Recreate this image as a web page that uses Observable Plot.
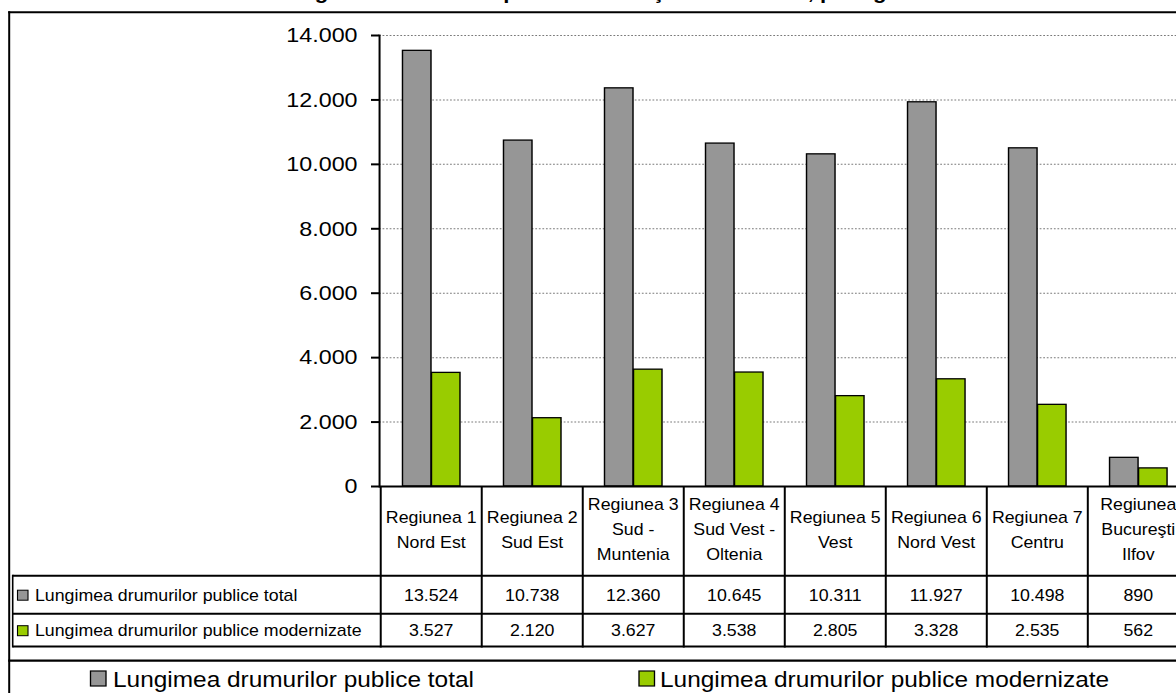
<!DOCTYPE html>
<html lang="ro">
<head>
<meta charset="utf-8">
<title>Lungimea drumurilor publice pe regiuni</title>
<script src="https://cdn.jsdelivr.net/npm/d3@7"></script>
<script src="https://cdn.jsdelivr.net/npm/@observablehq/plot@0.6"></script>
<style>
  html, body { margin: 0; padding: 0; background: #fff; width: 1176px; height: 693px; overflow: hidden; }
  #stage { position: absolute; left: 0; top: 0; width: 1100px; height: 760px; transform: scaleX(1.11); transform-origin: 0 0; }
  #stage svg { position: absolute; left: 0; top: 0; overflow: visible; }
</style>
</head>
<body>
<div id="stage"></div>
<script>
// Regions (header cells of the data table, one line per row of text)
const regions = [
  "Regiunea 1\nNord Est",
  "Regiunea 2\nSud Est",
  "Regiunea 3\nSud -\nMuntenia",
  "Regiunea 4\nSud Vest -\nOltenia",
  "Regiunea 5\nVest",
  "Regiunea 6\nNord Vest",
  "Regiunea 7\nCentru",
  "Regiunea\nBucureşti\nIlfov"
];
// Length of public roads, km
const totalKm  = [13524, 10738, 12360, 10645, 10311, 11927, 10498, 890];
const modernKm = [3527, 2120, 3627, 3538, 2805, 3328, 2535, 562];
const seriesNames = ["Lungimea drumurilor publice total", "Lungimea drumurilor publice modernizate"];
const seriesColors = ["#969696", "#99cc00"];
const yTicks = [0, 2000, 4000, 6000, 8000, 10000, 12000, 14000];
const title = "Lungimea drumurilor publice totale şi modernizate, pe regiuni";

// The whole figure is drawn on a stage that is stretched horizontally.
const SX = 1.11;
const sx = v => v / SX;
const FONT = '"Liberation Sans", Arial, sans-serif';
const fmt = d3.formatLocale({decimal: ",", thousands: ".", grouping: [3], currency: ["", ""]}).format(",d");

const rows = regions.map((region, i) => ({region, total: totalKm[i], modern: modernKm[i]}));

const W = 1100;
const left = sx(379), band = sx(101.5);
const marginRight = W - left - band * regions.length;
// bar placement inside each band, as fractions of the band width
const barA = 21.75 / 101.5, barB = 50.75 / 101.5;

const chart = Plot.plot({
  width: W,
  height: 490,
  marginLeft: left,
  marginRight,
  marginTop: 35,
  marginBottom: 4,
  x: {domain: regions, padding: 0, axis: null},
  y: {domain: [0, 14000]},
  style: {fontFamily: FONT, fontSize: "21px", color: "#000", background: "none", overflow: "visible"},
  marks: [
    Plot.gridY(yTicks.slice(1), {stroke: "#7a7a7a", strokeOpacity: 1, strokeWidth: 1, strokeDasharray: "1.6,1.6"}),
    Plot.barY(rows, {x: "region", y: "total", fill: seriesColors[0], stroke: "#000", strokeWidth: 1.3,
      insetLeft: band * barA, insetRight: band * (1 - barB)}),
    Plot.barY(rows, {x: "region", y: "modern", fill: seriesColors[1], stroke: "#000", strokeWidth: 1.3,
      insetLeft: band * barB, insetRight: band * barA}),
    Plot.ruleY([0], {stroke: "#000", strokeWidth: 2}),
    Plot.frame({anchor: "left", stroke: "#000", strokeWidth: sx(2)}),
    Plot.axisY(yTicks, {tickSize: sx(8), tickPadding: sx(14), tickFormat: fmt, strokeWidth: 2, fontSize: 21})
  ]
});
document.getElementById("stage").appendChild(chart);

// Data table, borders and legend, aligned on the chart's x scale
const xs = chart.scale("x");
const bw = xs.bandwidth;
const xEnd = xs.apply(regions[regions.length - 1]) + bw;
const tableLeft = sx(12.7);
const yAxis = 486, yRow1 = 575.7, yRow2 = 613.8, yBottom = 646.5, yLegend = 660.7;

const svg = d3.select("#stage").append("svg")
  .attr("width", W).attr("height", 760)
  .style("font-family", FONT);

const hline = (x1, x2, y, w = 2, c = "#000") =>
  svg.append("line").attr("x1", x1).attr("x2", x2).attr("y1", y).attr("y2", y).attr("stroke", c).attr("stroke-width", w);
const vline = (x, y1, y2, w = sx(2), c = "#000") =>
  svg.append("line").attr("x1", x).attr("x2", x).attr("y1", y1).attr("y2", y2).attr("stroke", c).attr("stroke-width", w);

// chart area border and legend box
hline(sx(8.2), W, 12.3, 2);
vline(sx(9.2), 11.3, 760, sx(2));
hline(sx(8.2), W, yLegend, 2.2);

// title, sitting above the chart area
svg.append("text")
  .attr("x", sx(600)).attr("y", -1)
  .attr("text-anchor", "middle")
  .attr("font-weight", "bold").attr("font-size", 20)
  .text(title);

// table grid
hline(tableLeft, xEnd, yRow1);
hline(tableLeft, xEnd, yRow2);
hline(tableLeft, xEnd, yBottom);
vline(tableLeft, yRow1 - 1, yBottom + 1, sx(1.6));
regions.forEach(r => vline(xs.apply(r), yAxis, yBottom + 1));
vline(xEnd, yAxis, yBottom + 1);

// header cells
regions.forEach(r => {
  const lines = r.split("\n");
  const cx = xs.apply(r) + bw / 2;
  const t = svg.append("text").attr("text-anchor", "middle").attr("font-size", 16);
  lines.forEach((ln, k) => {
    t.append("tspan").attr("x", cx).attr("y", 535.3 + (k - (lines.length - 1) / 2) * 25).text(ln);
  });
});

// value rows with their series labels
const valueRows = [totalKm, modernKm];
const rowBaselines = [600.7, 636.2];
valueRows.forEach((vals, j) => {
  regions.forEach((r, i) => {
    svg.append("text")
      .attr("x", xs.apply(r) + bw / 2).attr("y", rowBaselines[j])
      .attr("text-anchor", "middle").attr("font-size", 16)
      .text(fmt(vals[i]));
  });
  svg.append("rect")
    .attr("x", sx(17.5)).attr("y", rowBaselines[j] - 10.5)
    .attr("width", sx(10.5)).attr("height", 10)
    .attr("fill", seriesColors[j]).attr("stroke", "#000").attr("stroke-width", 1);
  svg.append("text")
    .attr("x", sx(35)).attr("y", rowBaselines[j])
    .attr("font-size", 16)
    .text(seriesNames[j]);
});

// legend
const legendSquareX = [90.5, 639];
const legendTextX = [113, 660];
seriesNames.forEach((name, j) => {
  svg.append("rect")
    .attr("x", sx(legendSquareX[j])).attr("y", 671)
    .attr("width", sx(15.5)).attr("height", 15)
    .attr("fill", seriesColors[j]).attr("stroke", "#000").attr("stroke-width", 1.2);
  svg.append("text")
    .attr("x", sx(legendTextX[j])).attr("y", 686.7)
    .attr("font-size", 22)
    .text(name);
});
</script>
</body>
</html>
